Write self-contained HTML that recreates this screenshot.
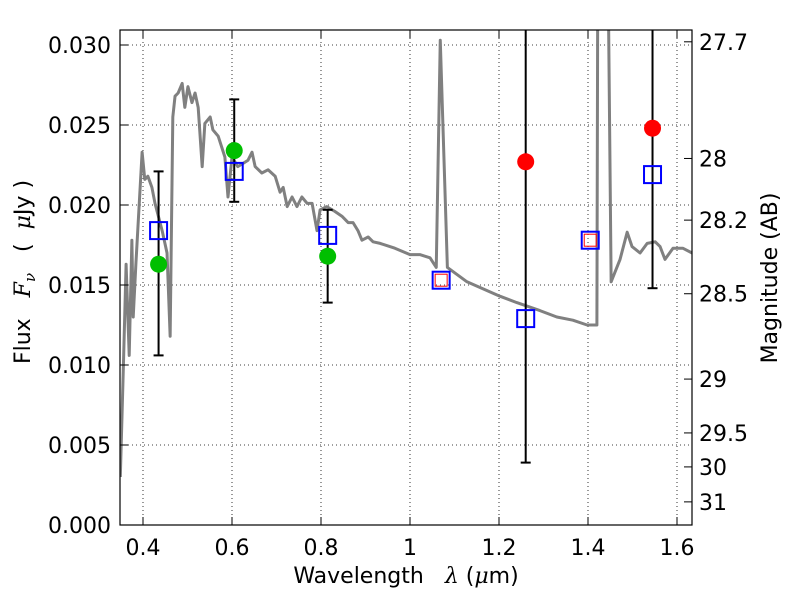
<!DOCTYPE html>
<html><head><meta charset="utf-8"><style>
body{margin:0;background:#fff}
svg{display:block;font-family:"DejaVu Sans","Liberation Sans",sans-serif}
</style></head><body>
<svg id="chart" width="800" height="600" viewBox="0 0 800 600" xmlns="http://www.w3.org/2000/svg">
<defs><clipPath id="pc"><rect x="120" y="30" width="572" height="495"/></clipPath></defs>
<g id="grid"></g>
<g id="plot" clip-path="url(#pc)"></g>
<rect x="120" y="30" width="572" height="495" fill="none" stroke="#000" stroke-width="1.2"/>
<g id="ticks"></g>
<text x="406" y="583" font-size="22" text-anchor="middle">Wavelength&#160;&#160;&#160;<tspan font-style="italic" font-family="DejaVu Serif, serif">λ</tspan> (<tspan font-style="italic" font-family="DejaVu Serif, serif">μ</tspan>m)</text>
<text transform="translate(30,272) rotate(-90)" font-size="22" text-anchor="middle">Flux&#160;&#160;&#160;<tspan font-style="italic" font-family="DejaVu Serif, serif">F<tspan font-size="15" dy="5">ν</tspan></tspan><tspan dy="-5">&#160;&#160;&#160;(&#160;&#160;</tspan><tspan font-style="italic" font-family="DejaVu Serif, serif">μ</tspan>Jy&#160;)</text>
<text transform="translate(777,278) rotate(-90)" font-size="22" text-anchor="middle">Magnitude (AB)</text>
</svg>
<script>
const specWl=[0.349,0.356,0.362,0.369,0.375,0.378,0.384,0.398,0.404,0.411,0.420,0.427,0.443,0.454,0.461,0.467,0.472,0.479,0.488,0.494,0.501,0.510,0.517,0.524,0.533,0.539,0.551,0.557,0.569,0.584,0.591,0.600,0.613,0.625,0.636,0.645,0.652,0.667,0.681,0.697,0.708,0.715,0.724,0.735,0.746,0.757,0.769,0.780,0.791,0.798,0.813,0.831,0.847,0.861,0.872,0.883,0.892,0.906,0.917,0.933,0.966,1.000,1.022,1.045,1.059,1.068,1.084,1.128,1.202,1.240,1.292,1.330,1.366,1.398,1.420,1.422,1.445,1.452,1.472,1.488,1.499,1.517,1.533,1.551,1.562,1.573,1.591,1.613,1.634];
const specFlux=[0.0030,0.0100,0.0163,0.0106,0.0178,0.0130,0.0163,0.0233,0.0216,0.0218,0.0211,0.0201,0.0184,0.0170,0.0118,0.0255,0.0268,0.0270,0.0276,0.0261,0.0274,0.0264,0.0270,0.0261,0.0224,0.0251,0.0255,0.0247,0.0243,0.0230,0.0205,0.0230,0.0224,0.0226,0.0228,0.0233,0.0224,0.0220,0.0222,0.0218,0.0208,0.0211,0.0199,0.0205,0.0199,0.0205,0.0201,0.0201,0.0184,0.0197,0.0199,0.0196,0.0193,0.0189,0.0189,0.0184,0.0178,0.0180,0.0177,0.0176,0.0173,0.0169,0.0169,0.0167,0.0161,0.0303,0.0161,0.0152,0.0143,0.0139,0.0134,0.0130,0.0128,0.0125,0.0125,0.0350,0.0350,0.0152,0.0166,0.0183,0.0174,0.0170,0.0176,0.0177,0.0174,0.0166,0.0173,0.0173,0.0170];
const obsWl=[0.435,0.605,0.815];
const obsFlux=[0.0163,0.0234,0.0168];
const obsLo=[0.0106,0.0202,0.0139];
const obsHi=[0.0221,0.0266,0.0197];
const limWl=[1.26,1.545];
const limFlux=[0.0227,0.0248];
const limLo=[0.0039,0.0148];
const limHi=[0.040,0.040];
const modWl=[0.435,0.605,0.815,1.07,1.26,1.405,1.545];
const modFlux=[0.0184,0.0221,0.0181,0.0153,0.0129,0.0178,0.0219];
const redWl=[1.07,1.405];
const redFlux=[0.0153,0.0178];
const xTicks=[0.4,0.6,0.8,1.0,1.2,1.4,1.6];
const xLabels=["0.4","0.6","0.8","1","1.2","1.4","1.6"];
const yTicks=[0,0.005,0.010,0.015,0.020,0.025,0.030];
const yLabels=["0.000","0.005","0.010","0.015","0.020","0.025","0.030"];
const magTicks=[27.7,28,28.2,28.5,29,29.5,30,31];
const magLabels=["27.7","28","28.2","28.5","29","29.5","30","31"];

const X=w=>143+(w-0.4)*445;
const Y=f=>525-f*16000;
const M=m=>Y(Math.pow(10,(23.9-m)/2.5));
const NS="http://www.w3.org/2000/svg";
function mk(p,tag,at){const e=document.createElementNS(NS,tag);for(const k in at)e.setAttribute(k,at[k]);p.appendChild(e);return e;}
const grid=document.getElementById('grid'),plot=document.getElementById('plot'),ticks=document.getElementById('ticks');

xTicks.forEach((t,i)=>{
 const x=X(t);
 const g=mk(grid,'line',{x1:x,x2:x,y1:30,y2:525,stroke:'#000','stroke-width':0.8,'stroke-dasharray':'1,3'});
 
 
 const a=mk(ticks,'line',{x1:x,x2:x,y1:525,y2:517,stroke:'#000'});
 
 
 const b=mk(ticks,'line',{x1:x,x2:x,y1:30,y2:38,stroke:'#000'});
 
 
 const l=mk(ticks,'text',{x:x,y:555,'font-size':22,'text-anchor':'middle'});l.textContent=xLabels[i];
 
 
});
yTicks.forEach((t,i)=>{
 const y=Y(t);
 const g=mk(grid,'line',{x1:120,x2:692,y1:y,y2:y,stroke:'#000','stroke-width':0.8,'stroke-dasharray':'1,3'});
 
 
 const a=mk(ticks,'line',{x1:120,x2:128,y1:y,y2:y,stroke:'#000'});
 
 
 const l=mk(ticks,'text',{x:111,y:y+8,'font-size':22,'text-anchor':'end'});l.textContent=yLabels[i];
 
 
});
magTicks.forEach((m,i)=>{
 const y=M(m);
 const a=mk(ticks,'line',{x1:684,x2:692,y1:y,y2:y,stroke:'#000'});
 
 
 const l=mk(ticks,'text',{x:699,y:y+8,'font-size':22});l.textContent=magLabels[i];
 
 
});

const sp=mk(plot,'polyline',{points:specWl.map((w,i)=>X(w)+','+Y(specFlux[i])).join(' '),fill:'none',stroke:'#808080','stroke-width':3,'stroke-linejoin':'round'});



function errbar(w,lo,hi,name){
 const x=X(w);
 const l=mk(plot,'line',{x1:x,x2:x,y1:Y(hi),y2:Y(lo),stroke:'#000','stroke-width':2});
 
 
 [lo,hi].forEach(v=>{const c=mk(plot,'line',{x1:x-5,x2:x+5,y1:Y(v),y2:Y(v),stroke:'#000','stroke-width':2});
 
 });
}
obsWl.forEach((w,i)=>errbar(w,obsLo[i],obsHi[i],'obs-error-bar'));
limWl.forEach((w,i)=>errbar(w,limLo[i],limHi[i],'limit-error-bar'));
modWl.forEach((w,i)=>{
 const r=mk(plot,'rect',{x:X(w)-8.5,y:Y(modFlux[i])-8.5,width:17,height:17,fill:'none',stroke:'#0000ff','stroke-width':2});
 
 
});
redWl.forEach((w,i)=>{
 const r=mk(plot,'rect',{x:X(w)-6,y:Y(redFlux[i])-6,width:12,height:12,fill:'none',stroke:'#ff0000','stroke-width':1});
 
 
});
obsWl.forEach((w,i)=>{
 const c=mk(plot,'circle',{cx:X(w),cy:Y(obsFlux[i]),r:8.5,fill:'#00bf00'});
 
 
});
limWl.forEach((w,i)=>{
 const c=mk(plot,'circle',{cx:X(w),cy:Y(limFlux[i]),r:8.5,fill:'#ff0000'});
 
 
});
</script>
</body></html>
